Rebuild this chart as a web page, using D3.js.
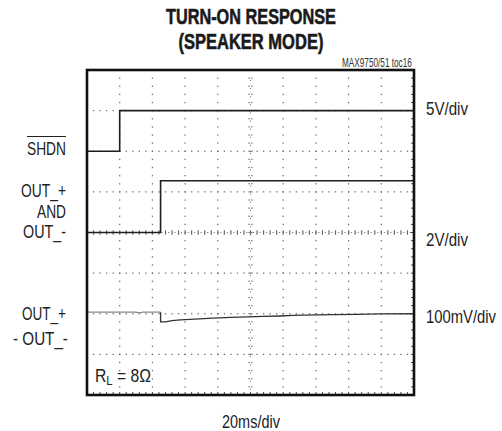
<!DOCTYPE html>
<html><head><meta charset="utf-8">
<script src="https://cdn.jsdelivr.net/npm/d3@7"></script>
<style>
html,body{margin:0;padding:0;background:#fff;}
svg{display:block;}
text{font-family:"Liberation Sans Narrow","Arial Narrow","Liberation Sans",Arial,sans-serif;fill:#222;}
</style></head>
<body>
<svg id="c" width="502" height="431"></svg>
<script>
// ---- data ----
const titleLines = ["TURN-ON RESPONSE", "(SPEAKER MODE)"];
const noteText = "MAX9750/51 toc16";
const timeDomainMs = [0, 200];       // 20ms/div x 10 div
const divDomain = [-4, 4];           // 8 vertical divisions
const xDivs = 10, yDivs = 8, minorPerDiv = 5;

// SHDN channel, 5V/div, trace ground at +2 div
const shdnT = [0, 20, 20, 200];
const shdnV = [0, 0, 5, 5];
// OUT_+ and OUT_- channel, 2V/div, ground at 0 div
const outT = [0, 45, 45, 200];
const outV = [0, 0, 2.55, 2.55];
// OUT_+ - OUT_- channel, 100mV/div, ground at -2 div
const diffPreT = [0, 30, 31, 33, 34, 45];
const diffPreMv = [4, 4, 3, 3, 4, 4];
const diffT = [45, 45, 48, 52, 57, 66, 77, 88, 98, 108, 118, 126, 140, 152, 165, 180, 200];
const diffMv = [4, -20, -20, -17, -15, -13, -11, -9, -7.5, -6.5, -5.5, -4, -3, -2, -1.5, -0.5, 0];

const channels = [
  {name: "shdn", t: shdnT, v: shdnV, perDiv: 5, offset: 2},
  {name: "out", t: outT, v: outV, perDiv: 2, offset: 0},
  {name: "diffPre", t: diffPreT, v: diffPreMv, perDiv: 100, offset: -2},
  {name: "diff", t: diffT, v: diffMv, perDiv: 100, offset: -2}
];
const rightLabels = ["5V/div", "2V/div", "100mV/div"];
const leftLabels = [["SHDN"], ["OUT_+", "AND", "OUT_-"], ["OUT_+", "- OUT_-"]];
const xLabel = "20ms/div";

// ---- layout ----
const L = 87, R = 414, T = 70, B = 395;
const svg = d3.select("#c");
const x = d3.scaleLinear().domain(timeDomainMs).range([L, R]);
const y = d3.scaleLinear().domain(divDomain).range([B, T]);

// helper: text squeezed horizontally to a target width, via transform (keeps real bbox)
function fitText(parent, s, xPos, yPos, size, width, anchor, weight) {
  const g = parent.append("g");
  const t = g.append("text").attr("x", 0).attr("y", 0).attr("font-size", size)
    .attr("font-weight", weight || "normal").text(s);
  const nat = t.node().getComputedTextLength() || width;
  const sx = width / nat;
  let x0 = xPos;
  if (anchor === "middle") x0 = xPos - width / 2;
  if (anchor === "end") x0 = xPos - width;
  g.attr("transform", `translate(${x0},${yPos}) scale(${sx},1)`);
  return t;
}

// title
[[24, 170], [49, 145]].forEach(([by, w], i) => {
  fitText(svg, titleLines[i], 251, by, 22, w, "middle", "bold")
    .style("fill", "#1a1a1a").style("stroke", "#1a1a1a").style("stroke-width", 0.6);
});
fitText(svg, noteText, 412, 66.5, 12, 70, "end").style("fill", "#333");

// graticule dots
const grid = svg.append("g").attr("fill", "#666");
const xStep = (timeDomainMs[1] - timeDomainMs[0]) / xDivs;
const yStep = (divDomain[1] - divDomain[0]) / yDivs;
for (let i = 1; i < xDivs; i++) {
  if (i === xDivs / 2) continue;
  const px = x(timeDomainMs[0] + i * xStep);
  for (let j = 1; j < yDivs * minorPerDiv; j++) {
    const py = y(divDomain[0] + j * yStep / minorPerDiv);
    grid.append("rect").attr("x", px - 0.6).attr("y", py - 0.6).attr("width", 1.2).attr("height", 1.3);
  }
}
for (let i = 1; i < yDivs; i++) {
  if (i === yDivs / 2) continue;
  const py = y(divDomain[0] + i * yStep);
  for (let j = 1; j < xDivs * minorPerDiv; j++) {
    const px = x(timeDomainMs[0] + j * xStep / minorPerDiv);
    grid.append("rect").attr("x", px - 0.6).attr("y", py - 0.6).attr("width", 1.3).attr("height", 1.2);
  }
}
// center axes with ticks
const cx = x((timeDomainMs[0] + timeDomainMs[1]) / 2), cy = y(0);
for (let j = 1; j < yDivs * minorPerDiv; j++) {
  const py = y(divDomain[0] + j * yStep / minorPerDiv);
  grid.append("rect").attr("x", cx - 2).attr("y", py - 0.6).attr("width", 1.3).attr("height", 1.2);
  grid.append("rect").attr("x", cx + 0.8).attr("y", py - 0.6).attr("width", 1.3).attr("height", 1.2);
  grid.append("rect").attr("x", cx - 0.5).attr("y", py + 1.8).attr("width", 1).attr("height", 1);
}
for (let j = 1; j < xDivs * minorPerDiv; j++) {
  const px = x(timeDomainMs[0] + j * xStep / minorPerDiv);
  grid.append("rect").attr("x", px - 0.6).attr("y", cy - 2.2).attr("width", 1.2).attr("height", 4.4);
  grid.append("rect").attr("x", px + 2.5).attr("y", cy - 0.5).attr("width", 1).attr("height", 1);
}
// edge ticks (bottom and right, inside)
const edge = svg.append("g").attr("stroke", "#444").attr("stroke-width", 1);
for (let j = 1; j < xDivs * minorPerDiv; j++) {
  const px = x(timeDomainMs[0] + j * xStep / minorPerDiv);
  edge.append("line").attr("x1", px).attr("x2", px).attr("y1", B - 3).attr("y2", B);
}
for (let j = 1; j < yDivs * minorPerDiv; j++) {
  const py = y(divDomain[0] + j * yStep / minorPerDiv);
  edge.append("line").attr("x1", R - 3).attr("x2", R).attr("y1", py).attr("y2", py);
}

// traces
const line = d3.line().x(d => x(d[0])).y(d => y(d[1]));
const styles = {
  shdn: {stroke: "#1e1e1e", w: 1.6},
  out: {stroke: "#1e1e1e", w: 1.6},
  diffPre: {stroke: "#8a8a8a", w: 1.3},
  diff: {stroke: "#333", w: 1.3}
};
channels.forEach(ch => {
  const pts = ch.t.map((t, i) => [t, ch.offset + ch.v[i] / ch.perDiv]);
  svg.append("path").datum(pts).attr("d", line).attr("fill", "none")
    .attr("stroke", styles[ch.name].stroke).attr("stroke-width", styles[ch.name].w);
});

// frame
svg.append("rect").attr("x", L).attr("y", T).attr("width", R - L).attr("height", B - T)
  .attr("fill", "none").attr("stroke", "#111").attr("stroke-width", 2.6);

// right labels
[[115, 42], [246, 42], [323, 70]].forEach(([by, w], i) => {
  fitText(svg, rightLabels[i], 426, by, 18, w, "start");
});
// left labels
const leftPos = [
  [[155, 39]],
  [[197, 45], [218, 29], [238, 43]],
  [[320, 44], [345, 55]]
];
leftLabels.forEach((group, gi) => {
  group.forEach((s, li) => {
    const [by, w] = leftPos[gi][li];
    const xr = gi === 2 && li === 1 ? 68 : 66;
    fitText(svg, s, xr, by, 18, w, "end");
  });
});
// SHDN overline
svg.append("line").attr("x1", 27).attr("x2", 66).attr("y1", 136.5).attr("y2", 136.5)
  .attr("stroke", "#222").attr("stroke-width", 1.2);

// R_L = 8 Ω
const rlG = svg.append("g");
const rl = rlG.append("text").attr("x", 0).attr("y", 0).attr("font-size", 18);
rl.append("tspan").text("R");
rl.append("tspan").attr("font-size", 13).attr("dy", 3).text("L");
rl.append("tspan").attr("dy", -3).text(" = 8Ω");
const rlNat = rl.node().getComputedTextLength() || 55;
rlG.attr("transform", `translate(95,382) scale(${56 / rlNat},1)`);

// x label
fitText(svg, xLabel, 251, 428, 18, 58, "middle");
</script>
</body></html>
